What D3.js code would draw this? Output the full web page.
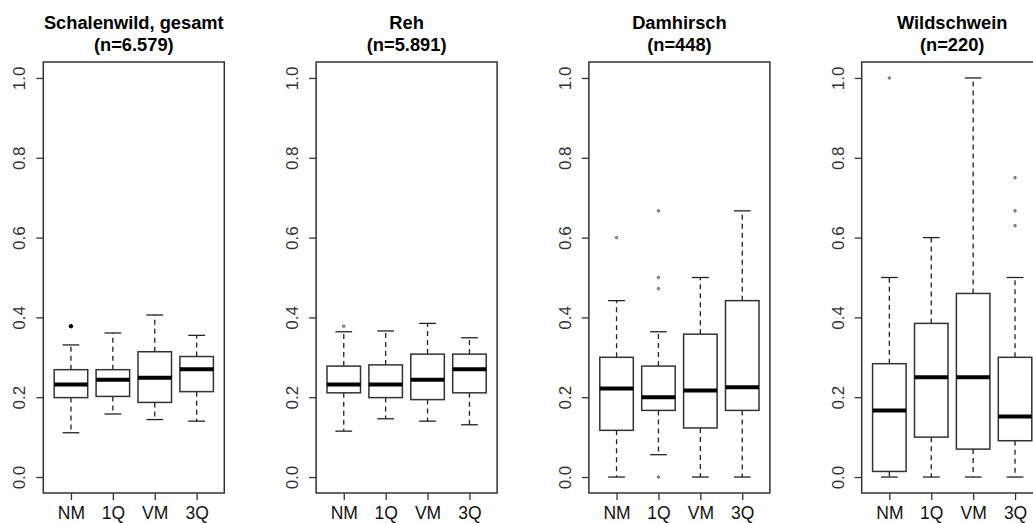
<!DOCTYPE html>
<html>
<head>
<meta charset="utf-8">
<script src="https://cdn.jsdelivr.net/npm/d3@7"></script>
<style>
  html, body { margin: 0; padding: 0; background: #fff; }
  svg { display: block; }
  text { font-family: "Liberation Sans", Arial, sans-serif; }
</style>
</head>
<body>
<svg id="chart" width="1033" height="523"></svg>
<script>
// Groups on the x axis of every panel
const groups = ["NM", "1Q", "VM", "3Q"];

// Panel titles and sample sizes
const species = ["Schalenwild, gesamt", "Reh", "Damhirsch", "Wildschwein"];
const sampleSizes = ["6.579", "5.891", "448", "220"];

// y axis ticks
const yTicks = [0, 0.2, 0.4, 0.6, 0.8, 1.0];

// Box statistics per group: [lower whisker, Q1, median, Q3, upper whisker]
const schalenwildStats = [
  [0.111, 0.199, 0.232, 0.269, 0.331],
  [0.158, 0.202, 0.244, 0.269, 0.361],
  [0.144, 0.187, 0.249, 0.314, 0.406],
  [0.140, 0.214, 0.270, 0.302, 0.355]
];
const schalenwildOutliers = [[0.378], [], [], []];

const rehStats = [
  [0.115, 0.211, 0.232, 0.278, 0.364],
  [0.146, 0.199, 0.232, 0.281, 0.366],
  [0.140, 0.194, 0.244, 0.308, 0.385],
  [0.131, 0.211, 0.270, 0.308, 0.349]
];
const rehOutliers = [[0.378], [], [], []];

const damhirschStats = [
  [0.000, 0.117, 0.222, 0.300, 0.442],
  [0.056, 0.167, 0.200, 0.278, 0.364],
  [0.000, 0.123, 0.217, 0.358, 0.500],
  [0.000, 0.167, 0.225, 0.442, 0.667]
];
const damhirschOutliers = [[0.600], [0.667, 0.500, 0.472, 0.000], [], []];

const wildschweinStats = [
  [0.000, 0.014, 0.167, 0.284, 0.500],
  [0.000, 0.100, 0.250, 0.385, 0.600],
  [0.000, 0.070, 0.250, 0.460, 1.000],
  [0.000, 0.091, 0.152, 0.300, 0.500]
];
const wildschweinOutliers = [[1.000], [], [], [0.750, 0.667, 0.630]];

const panelStats = [schalenwildStats, rehStats, damhirschStats, wildschweinStats];
const panelOutliers = [schalenwildOutliers, rehOutliers, damhirschOutliers, wildschweinOutliers];

// Layout
const panelPitch = 272.8;
const firstLeft = 43.3;
const plotWidth = 181;
const plotTop = 62;
const plotBottom = 493;
const frameColor = "#333";

const svg = d3.select("#chart");

const y = d3.scaleLinear().domain([-0.04, 1.04]).range([plotBottom, plotTop]);

species.forEach((name, p) => {
  const left = firstLeft + p * panelPitch;
  const right = left + plotWidth;
  const g = svg.append("g");

  const x = d3.scalePoint().domain(groups).range([left, right]).padding(0.66);
  const step = x.step();
  const boxW = step * 0.8;
  const capW = step * 0.4;

  // Title
  const cx = (left + right) / 2;
  g.append("text").attr("x", cx).attr("y", 28.5)
    .attr("text-anchor", "middle").attr("font-weight", "bold").attr("font-size", 18.3)
    .attr("fill", "#000").text(name);
  g.append("text").attr("x", cx).attr("y", 51)
    .attr("text-anchor", "middle").attr("font-weight", "bold").attr("font-size", 18.3)
    .attr("fill", "#000").text("(n=" + sampleSizes[p] + ")");

  // y axis
  const yAxis = d3.axisLeft(y).tickValues(yTicks).tickFormat(d3.format(".1f"))
    .tickSize(7).tickSizeOuter(0);
  const ya = g.append("g").attr("transform", `translate(${left},0)`).call(yAxis);
  ya.select(".domain").remove();
  ya.selectAll(".tick line").attr("stroke", frameColor).attr("stroke-width", 1.3);
  ya.selectAll(".tick text")
    .attr("font-size", 17).attr("fill", "#333")
    .attr("text-anchor", "middle")
    .attr("x", 0).attr("dy", 0)
    .attr("transform", "translate(-18,0) rotate(-90)");

  // x axis
  const xAxis = d3.axisBottom(x).tickSize(7).tickSizeOuter(0);
  const xa = g.append("g").attr("transform", `translate(0,${plotBottom})`).call(xAxis);
  xa.select(".domain").remove();
  xa.selectAll(".tick line").attr("stroke", frameColor).attr("stroke-width", 1.3);
  xa.selectAll(".tick text").attr("font-size", 17.5).attr("fill", "#111")
    .attr("y", 25.5).attr("dy", 0);

  // Boxplots
  const stats = panelStats[p];
  const outs = panelOutliers[p];
  groups.forEach((grp, i) => {
    const [lo, q1, med, q3, hi] = stats[i];
    const gx = x(grp);
    const bg = g.append("g");
    // whiskers
    bg.append("line").attr("x1", gx).attr("x2", gx).attr("y1", y(q3)).attr("y2", y(hi))
      .attr("stroke", "#222").attr("stroke-width", 1.3).attr("stroke-dasharray", "5,4");
    bg.append("line").attr("x1", gx).attr("x2", gx).attr("y1", y(q1)).attr("y2", y(lo))
      .attr("stroke", "#222").attr("stroke-width", 1.3).attr("stroke-dasharray", "5,4");
    // staples
    [lo, hi].forEach(v => {
      bg.append("line").attr("x1", gx - capW / 2).attr("x2", gx + capW / 2)
        .attr("y1", y(v)).attr("y2", y(v))
        .attr("stroke", "#222").attr("stroke-width", 1.3);
    });
    // box
    bg.append("rect").attr("x", gx - boxW / 2).attr("y", y(q3))
      .attr("width", boxW).attr("height", y(q1) - y(q3))
      .attr("fill", "#fff").attr("stroke", "#333").attr("stroke-width", 1.5);
    // median
    bg.append("line").attr("x1", gx - boxW / 2).attr("x2", gx + boxW / 2)
      .attr("y1", y(med)).attr("y2", y(med))
      .attr("stroke", "#000").attr("stroke-width", 4);
    // outliers
    outs[i].forEach(v => {
      bg.append("circle").attr("cx", gx).attr("cy", y(v)).attr("r", p === 0 ? 1.8 : 1.3)
        .attr("fill", p === 0 ? "#000" : "#999")
        .attr("stroke", p === 0 ? "#000" : "#666").attr("stroke-width", 0.9);
    });
  });

  // Plot frame
  g.append("rect").attr("x", left).attr("y", plotTop)
    .attr("width", plotWidth).attr("height", plotBottom - plotTop)
    .attr("fill", "none").attr("stroke", frameColor).attr("stroke-width", 1.5);
});
</script>
</body>
</html>
